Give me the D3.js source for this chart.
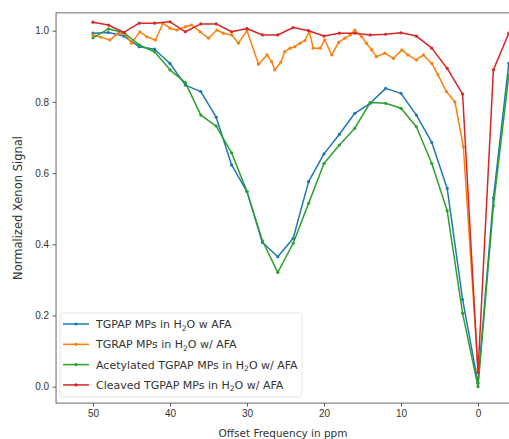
<!DOCTYPE html>
<html>
<head>
<meta charset="utf-8">
<script src="https://cdn.jsdelivr.net/npm/d3@7.9.0/dist/d3.min.js"></script>
<style>
  body { margin: 0; background: #fff; }
  svg { display: block; font-family: "DejaVu Sans", sans-serif; }
</style>
</head>
<body>
<svg id="chart" width="509" height="439"></svg>
<script>
// offsets (ppm) shared by the blue, green and red series
const ppm = [50, 48, 46, 44, 42, 40, 38, 36, 34, 32, 30, 28, 26, 24, 22, 20, 18, 16, 14, 12, 10, 8, 6, 4, 2, 0, -2, -4];

const tgpap = [0.993, 0.995, 0.985, 0.955, 0.948, 0.908, 0.847, 0.829, 0.757, 0.623, 0.548, 0.405, 0.365, 0.417,
  0.576, 0.654, 0.709, 0.768, 0.796, 0.838, 0.824, 0.763, 0.686, 0.557, 0.245, 0.01, 0.53, 0.908];

const acetylated = [0.980, 1.005, 0.995, 0.96, 0.941, 0.89, 0.854, 0.763, 0.732, 0.657, 0.548, 0.41, 0.321, 0.403,
  0.515, 0.627, 0.679, 0.726, 0.798, 0.796, 0.782, 0.730, 0.627, 0.494, 0.206, 0.0, 0.508, 0.875];

const cleaved = [1.024, 1.016, 0.995, 1.021, 1.021, 1.025, 0.997, 1.019, 1.019, 0.997, 1.006, 0.988, 0.988, 1.009,
  1.0, 0.985, 0.993, 0.993, 0.988, 0.99, 0.994, 0.985, 0.951, 0.894, 0.822, 0.04, 0.89, 0.993];

// TGRAP was sampled more finely
const tgrapPpm = [50, 49, 47.8, 46.7, 45.8, 45, 43.9, 43, 41.9, 40.9, 40, 39.1, 38, 37.2, 36.1, 35, 33.9, 33.1, 32, 31.1,
  30, 28.5, 27.4, 26.8, 26.4, 25.6, 25.1, 24.4, 23.8, 23.1, 22.5, 21.9, 21.4, 20.5, 19.9, 19, 18.1, 17.3, 16.6, 16,
  15.1, 14.5, 13.8, 13.2, 12.1, 11, 9.9, 9.1, 8, 7.1, 6, 5.2, 4.1, 3, 1.9, 0];
const tgrap = [0.988, 0.982, 0.974, 0.993, 0.99, 0.965, 0.997, 0.983, 0.974, 1.021, 1.007, 1.002, 1.011, 1.016, 0.997, 0.979,
  1.002, 0.993, 0.988, 0.965, 1.0, 0.906, 0.932, 0.913, 0.89, 0.912, 0.941, 0.951, 0.955, 0.965, 0.972, 0.997, 0.951,
  0.951, 0.974, 0.932, 0.967, 0.979, 0.988, 1.002, 0.983, 0.965, 0.946, 0.927, 0.937, 0.922, 0.946, 0.932, 0.918,
  0.932, 0.908, 0.876, 0.829, 0.80, 0.674, 0.05];

const xTicks = [50, 40, 30, 20, 10, 0];
const yTicks = [0.0, 0.2, 0.4, 0.6, 0.8, 1.0];

const series = [
  { name: 'TGPAP MPs in H|2|O w AFA', xs: ppm, ys: tgpap, color: '#1f77b4' },
  { name: 'TGRAP MPs in H|2|O w/ AFA', xs: tgrapPpm, ys: tgrap, color: '#ff7f0e' },
  { name: 'Acetylated TGPAP MPs in H|2|O w/ AFA', xs: ppm, ys: acetylated, color: '#2ca02c' },
  { name: 'Cleaved TGPAP MPs in H|2|O w/ AFA', xs: ppm, ys: cleaved, color: '#d62728' }
];

const svg = d3.select('#chart');

const x = d3.scaleLinear().domain([50, 0]).range([93, 478]);
const y = d3.scaleLinear().domain([0, 1]).range([386.7, 30.7]);

const plotLeft = x(54.8), plotRight = x(-7), plotTop = y(1.05), plotBottom = y(-0.046);

svg.append('clipPath').attr('id', 'clip')
  .append('rect').attr('x', plotLeft).attr('y', plotTop)
  .attr('width', plotRight - plotLeft).attr('height', plotBottom - plotTop);

// axes
const xAxis = svg.append('g')
  .attr('transform', `translate(0,${plotBottom})`)
  .call(d3.axisBottom(x).tickValues(xTicks).tickFormat(d3.format('d')).tickSize(3.5).tickPadding(3));
const yAxis = svg.append('g')
  .attr('transform', `translate(${plotLeft},0)`)
  .call(d3.axisLeft(y).tickValues(yTicks).tickFormat(d3.format('.1f')).tickSize(3.5).tickPadding(3.5));
[xAxis, yAxis].forEach(g => {
  g.select('.domain').remove();
  g.selectAll('.tick line').attr('stroke', '#333').attr('stroke-width', 0.8);
  g.selectAll('.tick text').attr('fill', '#333').style('font-size', '10px');
});

// frame
svg.append('rect')
  .attr('x', plotLeft).attr('y', plotTop)
  .attr('width', plotRight - plotLeft).attr('height', plotBottom - plotTop)
  .attr('fill', 'none').attr('stroke', '#444').attr('stroke-width', 0.8);

// lines + markers
const plot = svg.append('g').attr('clip-path', 'url(#clip)');
series.forEach(s => {
  const pts = s.xs.map((v, i) => [v, s.ys[i]]);
  plot.append('path')
    .datum(pts)
    .attr('fill', 'none')
    .attr('stroke', s.color)
    .attr('stroke-width', 1.5)
    .attr('stroke-linejoin', 'round')
    .attr('d', d3.line().x(d => x(d[0])).y(d => y(d[1])));
  plot.selectAll(null)
    .data(pts)
    .enter()
    .append('circle')
    .attr('cx', d => x(d[0]))
    .attr('cy', d => y(d[1]))
    .attr('r', 1.6)
    .attr('fill', s.color);
});

// axis labels
svg.append('text')
  .attr('x', 283).attr('y', 437)
  .attr('text-anchor', 'middle')
  .attr('fill', '#333')
  .style('font-size', '10.5px')
  .text('Offset Frequency in ppm');
svg.append('text')
  .attr('transform', `translate(22,${(plotTop + plotBottom) / 2}) rotate(-90)`)
  .attr('text-anchor', 'middle')
  .attr('fill', '#333')
  .style('font-size', '11.5px')
  .text('Normalized Xenon Signal');

// legend
const legend = svg.append('g');
legend.append('rect')
  .attr('x', 60).attr('y', 313).attr('width', 242).attr('height', 84)
  .attr('rx', 2.5)
  .attr('fill', 'rgba(255,255,255,0.8)')
  .attr('stroke', '#ddd').attr('stroke-width', 0.8);

series.forEach((s, i) => {
  const ly = 324 + i * 20.3;
  const g = legend.append('g');
  g.append('line')
    .attr('x1', 63).attr('x2', 89).attr('y1', ly).attr('y2', ly)
    .attr('stroke', s.color).attr('stroke-width', 1.5);
  g.append('circle').attr('cx', 76).attr('cy', ly).attr('r', 1.6).attr('fill', s.color);
  const parts = s.name.split('|');
  const t = g.append('text')
    .attr('x', 96).attr('y', ly + 4)
    .attr('fill', '#333')
    .style('font-size', '11px');
  t.append('tspan').text(parts[0]);
  t.append('tspan').attr('dy', 2.5).style('font-size', '7.5px').text(parts[1]);
  t.append('tspan').attr('dy', -2.5).text(parts[2]);
});
</script>
</body>
</html>
